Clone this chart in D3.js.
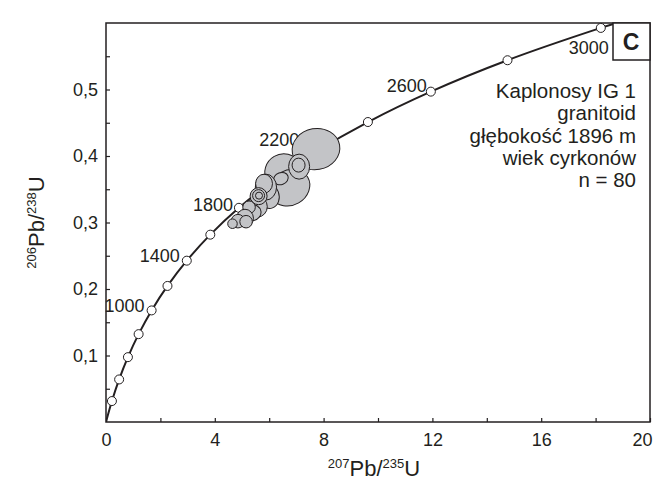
<!DOCTYPE html>
<html>
<head>
<meta charset="utf-8">
<script src="https://cdn.jsdelivr.net/npm/d3@7"></script>
<style>
  body { margin: 0; background: #fff; }
  svg text { font-family: "Liberation Sans", Arial, sans-serif; fill: #231f20; }
</style>
</head>
<body>
<div id="chart"></div>
<script>

// ---------------------------------------------
// ---------          Data           -----------
// ---------------------------------------------

// concordia age markers (Ma) and their 207Pb/235U, 206Pb/238U values
const markerAges = [200, 400, 600, 800, 1000, 1200, 1400, 1600, 1800, 2000, 2200, 2400, 2600, 2800, 3000];
const markerX = [0.218, 0.483, 0.806, 1.199, 1.677, 2.260, 2.970, 3.835, 4.887, 6.169, 7.729, 9.629, 11.943, 14.761, 18.192];
const markerY = [0.0315, 0.0640, 0.0975, 0.1321, 0.1678, 0.2046, 0.2426, 0.2817, 0.3221, 0.3638, 0.4068, 0.4511, 0.4968, 0.5440, 0.5926];

// where the curve leaves the top of the frame
const curveEnd = [18.77, 0.6];

const labelAges = [1000, 1400, 1800, 2200, 2600, 3000];

// zircon error ellipses: centre (x, y), half widths (rx, ry) in data units, tilt in degrees
const ellX   = [6.51, 6.76, 7.72, 5.96, 7.10, 7.08, 6.43, 5.88, 5.81, 5.57, 5.37, 5.61, 5.61, 5.625, 5.26, 5.11, 4.85, 5.15, 4.65];
const ellY   = [0.3765, 0.3524, 0.4104, 0.3404, 0.3840, 0.3863, 0.3660, 0.3532, 0.3584, 0.3238, 0.3148, 0.3396, 0.3404, 0.3404, 0.3230, 0.3065, 0.3020, 0.3012, 0.2982];
const ellRx  = [0.68, 0.76, 0.88, 0.40, 0.386, 0.239, 0.276, 0.39, 0.31, 0.36, 0.33, 0.3125, 0.22, 0.129, 0.23, 0.31, 0.25, 0.23, 0.175];
const ellRy  = [0.0265, 0.0265, 0.0309, 0.0196, 0.0188, 0.0105, 0.0090, 0.0195, 0.0142, 0.0156, 0.0120, 0.0128, 0.0090, 0.0053, 0.0094, 0.0134, 0.0102, 0.0094, 0.0072];
const ellRot = [-30, -30, -10, -20, 0, 0, -20, 0, 0, 0, -10, 0, 0, 0, 0, 0, 0, 0, 0];

// axes
const xTicks = [0, 2, 4, 6, 8, 10, 12, 14, 16, 18, 20];
const xLabels = [0, 4, 8, 12, 16, 20];
const yTicks = [0.05, 0.1, 0.15, 0.2, 0.25, 0.3, 0.35, 0.4, 0.45, 0.5, 0.55];
const yLabels = [0.1, 0.2, 0.3, 0.4, 0.5];

const infoLines = ["Kaplonosy IG 1", "granitoid", "głębokość 1896 m", "wiek cyrkonów", "n = 80"];

// ---------------------------------------------
// ---------          Config         -----------
// ---------------------------------------------

const W = 654, H = 484;
const plot = {left: 106, right: 650, top: 23, bottom: 422};
const ink = "#231f20";

// label offsets from marker centre [dx, dy, anchor]
const labelPos = {
  1000: [-7, 2, "end"],
  1400: [-7, 1, "end"],
  1800: [-6, 3, "end"],
  2200: [-17, -5, "end"],
  2600: [-4, 0, "end"],
  3000: [8, 26, "end"]
};

var svg = d3.select("#chart")
  .append("svg")
    .attr("width", W)
    .attr("height", H);

var x = d3.scaleLinear().domain([0, 20]).range([plot.left, plot.right]);
var y = d3.scaleLinear().domain([0, 0.6]).range([plot.bottom, plot.top]);

svg.append("clipPath")
    .attr("id", "clip")
  .append("rect")
    .attr("x", plot.left)
    .attr("y", plot.top)
    .attr("width", plot.right - plot.left)
    .attr("height", plot.bottom - plot.top);

// ---------------------------------------------
// ---------          Axes           -----------
// ---------------------------------------------

const fmt = d3.format(".1f");

var xAxis = svg.append("g")
  .attr("transform", "translate(0," + plot.bottom + ")")
  .call(d3.axisBottom(x)
    .tickValues(xTicks)
    .tickSizeInner(-4)
    .tickSizeOuter(0)
    .tickPadding(11)
    .tickFormat(d => xLabels.includes(d) ? d : ""));

var yAxis = svg.append("g")
  .attr("transform", "translate(" + plot.left + ",0)")
  .call(d3.axisLeft(y)
    .tickValues(yTicks)
    .tickSizeInner(-4)
    .tickSizeOuter(0)
    .tickPadding(8)
    .tickFormat(d => yLabels.some(v => Math.abs(v - d) < 1e-9) ? fmt(d).replace(".", ",") : ""));

[xAxis, yAxis].forEach(g => {
  g.select(".domain").remove();
  g.selectAll(".tick line").attr("stroke", ink).attr("stroke-width", 1.2);
  g.selectAll(".tick text").attr("font-size", 18).attr("fill", ink)
    .style("font-family", "'Liberation Sans', Arial, sans-serif");
});

// last x label sits at the right edge: pull it in so it is not cut
xAxis.selectAll(".tick text").filter(d => d === 20).attr("dx", -8);

// frame
svg.append("rect")
  .attr("x", plot.left)
  .attr("y", plot.top)
  .attr("width", plot.right - plot.left)
  .attr("height", plot.bottom - plot.top)
  .attr("fill", "none")
  .attr("stroke", ink)
  .attr("stroke-width", 1.5);

// axis titles
var xt = svg.append("text")
  .attr("x", 374)
  .attr("y", 476)
  .attr("text-anchor", "middle")
  .attr("font-size", 22);
xt.append("tspan").attr("font-size", 13).attr("dy", -8).text("207");
xt.append("tspan").attr("dy", 8).text("Pb/");
xt.append("tspan").attr("font-size", 13).attr("dy", -8).text("235");
xt.append("tspan").attr("dy", 8).text("U");

var yt = svg.append("text")
  .attr("transform", "translate(44," + ((plot.top + plot.bottom) / 2) + ") rotate(-90)")
  .attr("text-anchor", "middle")
  .attr("font-size", 22);
yt.append("tspan").attr("font-size", 13).attr("dy", -8).text("206");
yt.append("tspan").attr("dy", 8).text("Pb/");
yt.append("tspan").attr("font-size", 13).attr("dy", -8).text("238");
yt.append("tspan").attr("dy", 8).text("U");

// ---------------------------------------------
// ---------        Concordia        -----------
// ---------------------------------------------

let curvePts = [[0, 0]];
markerX.forEach((mx, i) => curvePts.push([mx, markerY[i]]));
curvePts.push(curveEnd);

var line = d3.line()
  .x(d => x(d[0]))
  .y(d => y(d[1]))
  .curve(d3.curveCatmullRom.alpha(0.5));

svg.append("path")
  .datum(curvePts)
  .attr("clip-path", "url(#clip)")
  .attr("d", line)
  .attr("fill", "none")
  .attr("stroke", ink)
  .attr("stroke-width", 2);

svg.append("g")
  .selectAll("circle")
  .data(markerAges)
  .join("circle")
    .attr("cx", (d, i) => x(markerX[i]))
    .attr("cy", (d, i) => y(markerY[i]))
    .attr("r", 4.5)
    .attr("fill", "#fff")
    .attr("stroke", ink)
    .attr("stroke-width", 1);

svg.append("g")
  .selectAll("text")
  .data(labelAges)
  .join("text")
    .attr("x", d => x(markerX[markerAges.indexOf(d)]) + labelPos[d][0])
    .attr("y", d => y(markerY[markerAges.indexOf(d)]) + labelPos[d][1])
    .attr("text-anchor", d => labelPos[d][2])
    .attr("font-size", 18)
    .text(d => d);

// ---------------------------------------------
// ---------        Ellipses         -----------
// ---------------------------------------------

svg.append("g")
  .selectAll("ellipse")
  .data(ellX)
  .join("ellipse")
    .attr("transform", (d, i) => "translate(" + x(d) + "," + y(ellY[i]) + ") rotate(" + ellRot[i] + ")")
    .attr("rx", (d, i) => x(ellRx[i]) - x(0))
    .attr("ry", (d, i) => y(0) - y(ellRy[i]))
    .attr("fill", "#c3c4c7")
    .attr("stroke", ink)
    .attr("stroke-width", 1);

// ---------------------------------------------
// ---------     Sample annotation   -----------
// ---------------------------------------------

svg.append("g")
  .selectAll("text")
  .data(infoLines)
  .join("text")
    .attr("x", 636)
    .attr("y", (d, i) => 98 + i * 22.3)
    .attr("text-anchor", "end")
    .attr("font-size", 20.5)
    .text(d => d);

svg.append("rect")
  .attr("x", 613)
  .attr("y", plot.top)
  .attr("width", plot.right - 613)
  .attr("height", 37)
  .attr("fill", "#fff")
  .attr("stroke", ink)
  .attr("stroke-width", 1.5);

svg.append("text")
  .attr("x", 631)
  .attr("y", 50)
  .attr("text-anchor", "middle")
  .attr("font-size", 23)
  .attr("font-weight", "bold")
  .text("C");

</script>
</body>
</html>
